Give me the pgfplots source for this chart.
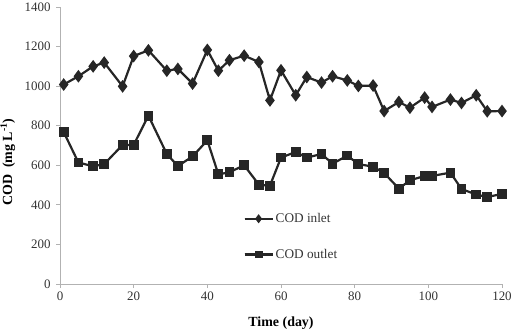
\documentclass[border=0pt]{standalone}
\usepackage{fontspec}
\setmainfont{Liberation Serif}
\usepackage{pgfplots}
\pgfplotsset{compat=1.18}
\definecolor{ln}{HTML}{262626}
\definecolor{tk}{HTML}{333333}
\begin{document}
\begin{tikzpicture}
\begin{axis}[
  scale only axis, width=442bp, height=277bp,
  xmin=0, xmax=120, ymin=0, ymax=1400,
  xtick={0,20,...,120}, ytick={0,200,...,1400},
  axis lines*=left,
  axis line style={gray!60, line width=0.8bp},
  tick style={gray!60, line width=0.8bp},
  tick align=outside, major tick length=4bp,
  ticklabel style={font=\fontsize{13}{13}\selectfont, text=tk},
  yticklabel style={xshift=-2bp},
  /pgf/number format/assume math mode=true,
  /pgf/number format/1000 sep={},
  xlabel={\textbf{Time (day)}},
  ylabel={\textbf{COD\ \ (mg L\textsuperscript{-1})}},
  label style={font=\fontsize{14}{14}\selectfont, text=black},
  xlabel style={at={(axis description cs:0.5,-0.141)}, anchor=center},
  ylabel style={at={(axis description cs:-0.118,0.44)}, anchor=center},
  legend style={at={(axis description cs:0.408,0.27)}, anchor=north west, draw=none, fill=none,
    font=\fontsize{13.3}{13.3}\selectfont, row sep=21bp, text=tk},
  legend cell align=left,
  legend image code/.code={\draw[#1, line width=2.2bp] (0bp,0bp) -- (28bp,0bp); \path[#1, mark size=2.8bp, mark repeat=2, mark phase=2] plot coordinates {(0bp,0bp) (14bp,0bp) (28bp,0bp)};},
  every axis plot/.append style={line width=2.2bp, color=ln},
]
\addplot[mark=diamond*, mark size=4.6bp, mark options={solid, fill=ln}] coordinates {
(1,1008) (5,1050) (9,1100) (12,1119) (17,999) (20,1152) (24,1181) (29,1078) (32,1087) (36,1013)
(40,1183) (43,1078) (46,1131) (50,1154) (54,1122) (57,928) (60,1080)
(64,954) (67,1046) (71,1018) (74,1050) (78,1029) (81,1001) (85,1003) (88,874) (92,920)
(95,891) (99,942) (101,895) (106,932) (109,915) (113,954) (116,873) (120,874)
};
\addlegendentry{COD inlet}
\addplot[mark=square*, mark size=3.8bp, mark options={solid, fill=ln}] coordinates {
(1,768) (5,614) (9,595) (12,606) (17,703) (20,703) (24,851) (29,657) (32,596) (36,645)
(40,726) (43,554) (46,565) (50,600) (54,502) (57,497) (60,639)
(64,667) (67,639) (71,657) (74,608) (78,649) (81,606) (85,593) (88,561) (92,482)
(95,524) (99,546) (101,546) (106,563) (109,480) (113,452) (116,440) (120,455)
};
\addlegendentry{COD outlet}
\end{axis}
\pgfresetboundingbox
\path ([shift={(-60bp,-45bp)}]current axis.south west) rectangle ([shift={(13bp,7bp)}]current axis.north east);
\end{tikzpicture}
\end{document}
